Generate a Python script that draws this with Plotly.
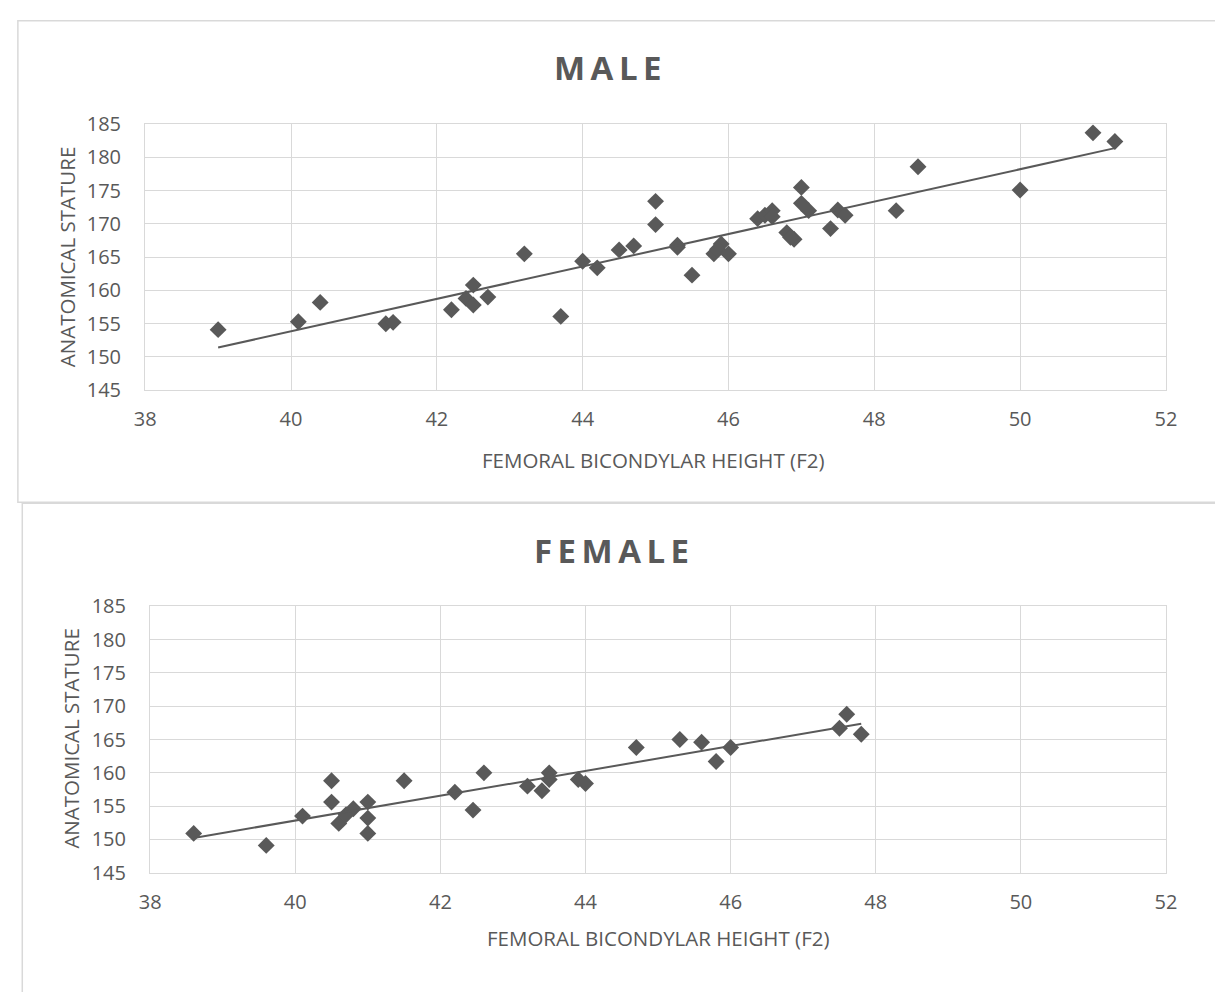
import numpy as np
import plotly.graph_objects as go

# Male sample: femoral bicondylar height (F2) vs anatomical stature
male_f2 = [39.0, 40.1, 40.4, 41.3, 41.4, 42.2, 42.4, 42.5, 42.5, 42.7,
           43.2, 43.7, 44.0, 44.2, 44.5, 44.7, 45.0, 45.0, 45.3, 45.3,
           45.5, 45.8, 45.9, 45.85, 46.0, 46.4, 46.5, 46.6, 46.6, 47.0,
           47.0, 47.1, 46.8, 46.9, 46.85, 47.4, 47.5, 47.6, 48.3, 48.6,
           50.0, 51.0, 51.3]
male_stature = [154.1, 155.3, 158.2, 155.0, 155.2, 157.1, 158.8, 160.8, 157.8, 159.0,
                165.5, 156.1, 164.4, 163.4, 166.1, 166.7, 173.4, 169.9, 166.5, 166.8,
                162.3, 165.5, 167.0, 166.2, 165.5, 170.8, 171.3, 172.0, 171.1, 175.5,
                173.1, 172.0, 168.7, 167.7, 168.0, 169.3, 172.1, 171.3, 172.0, 178.6,
                175.1, 183.7, 182.4]

# Female sample
female_f2 = [38.6, 39.6, 40.1, 40.5, 40.5, 40.6, 40.7, 40.8, 41.0, 41.0,
             41.0, 41.5, 42.2, 42.45, 42.6, 43.2, 43.4, 43.5, 43.5, 43.9,
             44.0, 44.7, 45.3, 45.6, 45.8, 46.0, 47.5, 47.6, 47.8]
female_stature = [150.9, 149.1, 153.5, 158.8, 155.6, 152.4, 153.7, 154.6, 155.6, 153.2,
                  150.9, 158.8, 157.1, 154.4, 160.0, 158.0, 157.3, 160.0, 159.0, 159.0,
                  158.4, 163.8, 165.0, 164.6, 161.7, 163.8, 166.7, 168.8, 165.8]

x_ticks = [38, 40, 42, 44, 46, 48, 50, 52]
y_ticks = [145, 150, 155, 160, 165, 170, 175, 180, 185]

W, H = 1215, 992
GREY = "#595959"
GRID = "#d9d9d9"
FONT = "Open Sans"


def px_x(p):
    return p / W


def px_y(p):
    return 1 - p / H


def trend(xs, ys):
    slope, icpt = np.polyfit(xs, ys, 1)
    xr = np.array([min(xs), max(xs)])
    return xr, slope * xr + icpt


fig = go.Figure()

for i, (xs, ys) in enumerate([(male_f2, male_stature), (female_f2, female_stature)]):
    xa = "x" if i == 0 else "x2"
    ya = "y" if i == 0 else "y2"
    fig.add_trace(go.Scatter(
        x=xs, y=ys, mode="markers", xaxis=xa, yaxis=ya,
        marker=dict(symbol="diamond", size=13, color=GREY, line=dict(width=0)),
        showlegend=False, hoverinfo="x+y"))
    tx, ty = trend(xs, ys)
    fig.add_trace(go.Scatter(
        x=tx, y=ty, mode="lines", xaxis=xa, yaxis=ya,
        line=dict(color=GREY, width=2), showlegend=False, hoverinfo="skip"))

axis_common = dict(
    showgrid=True, gridcolor=GRID, gridwidth=1.3,
    showline=True, linecolor=GRID, linewidth=1.3, mirror=True,
    zeroline=False, ticks="", tickfont=dict(family=FONT, size=20, color=GREY),
    fixedrange=True,
)

# plot-area pixel boxes: (left, right, top, bottom)
boxes = [(136.7, 1176.2, 113.3, 386.7), (141.7, 1176.3, 609.0, 882.7)]

for i, (l, r, t, b) in enumerate(boxes):
    sx = "" if i == 0 else "2"
    fig.update_layout(**{
        f"xaxis{sx}": dict(axis_common, domain=[px_x(l), px_x(r)], range=[38, 52],
                           tickvals=x_ticks, anchor=f"y{sx}", ticklabelstandoff=11),
        f"yaxis{sx}": dict(axis_common, domain=[px_y(b), px_y(t)], range=[145, 185],
                           tickvals=y_ticks, anchor=f"x{sx}", ticklabelstandoff=19),
    })

annotations = []
titles = [("MALE", 611, 54.5), ("FEMALE", 615, 551)]
for text, cx, cy in titles:
    annotations.append(dict(
        text=f"<span style='letter-spacing:5.5px'><b>{text}</b></span>",
        x=px_x(cx), y=px_y(cy), xref="paper", yref="paper",
        xanchor="center", yanchor="middle", showarrow=False,
        font=dict(family=FONT, size=33, color=GREY)))

for cx, cy in [(654, 458), (659, 950)]:
    annotations.append(dict(
        text="FEMORAL BICONDYLAR HEIGHT (F2)",
        x=px_x(cx), y=px_y(cy), xref="paper", yref="paper",
        xanchor="center", yanchor="middle", showarrow=False,
        font=dict(family=FONT, size=20.5, color=GREY)))

for cx, cy in [(57, 250), (61, 745)]:
    annotations.append(dict(
        text="ANATOMICAL STATURE", textangle=-90,
        x=px_x(cx), y=px_y(cy), xref="paper", yref="paper",
        xanchor="center", yanchor="middle", showarrow=False,
        font=dict(family=FONT, size=20.5, color=GREY)))

shapes = [
    dict(type="rect", xref="paper", yref="paper",
         x0=px_x(7), x1=px_x(1230), y0=px_y(502), y1=px_y(7),
         line=dict(color=GRID, width=1.5), fillcolor="rgba(0,0,0,0)", layer="below"),
    dict(type="rect", xref="paper", yref="paper",
         x0=px_x(11.5), x1=px_x(1230), y0=px_y(1010), y1=px_y(503),
         line=dict(color=GRID, width=1.5), fillcolor="rgba(0,0,0,0)", layer="below"),
]

fig.update_layout(
    width=W, height=H, margin=dict(l=0, r=0, t=0, b=0),
    paper_bgcolor="white", plot_bgcolor="white",
    annotations=annotations, shapes=shapes,
    font=dict(family=FONT, color=GREY),
)

# page without the default body margin so the figure fills the window exactly
page_js = "document.body.style.margin='0';document.body.style.overflow='hidden';"

fig.write_html("out.html", config={"displayModeBar": False}, post_script=page_js)
